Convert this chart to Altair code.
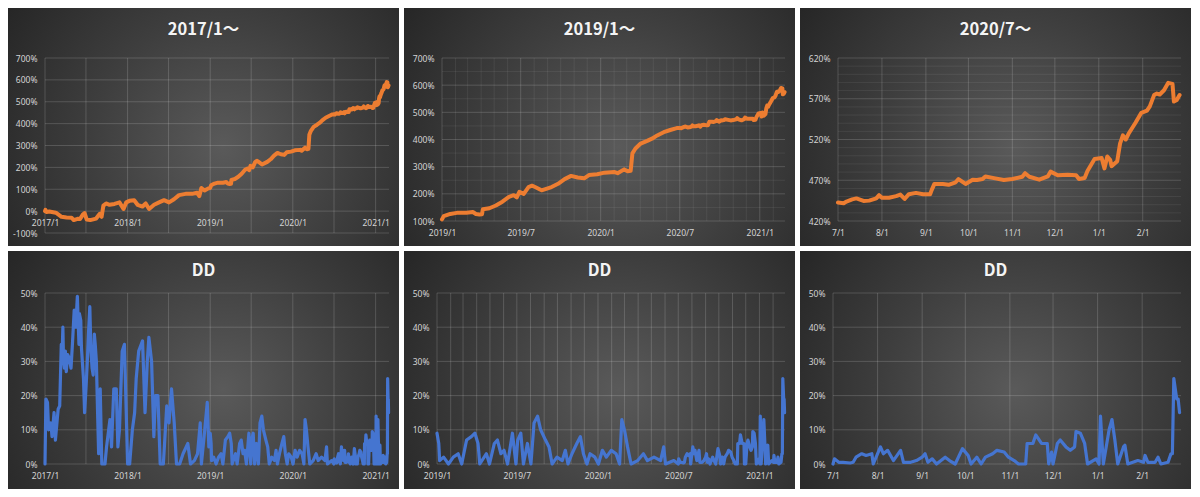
import altair as alt
import pandas as pd

# ---------------- data ----------------
ret_dates = [
    "2017-01-01", "2017-01-03", "2017-01-08", "2017-01-20", "2017-02-06", "2017-02-18",
    "2017-03-15", "2017-04-06", "2017-04-28", "2017-05-08", "2017-05-25", "2017-06-05",
    "2017-06-17", "2017-06-25", "2017-07-04", "2017-07-20", "2017-08-15", "2017-08-25",
    "2017-08-31", "2017-09-08", "2017-09-16", "2017-09-28", "2017-10-13", "2017-11-04",
    "2017-11-26", "2017-12-14", "2017-12-26", "2018-01-09", "2018-01-30", "2018-02-14",
    "2018-03-08", "2018-03-22", "2018-04-06", "2018-04-28", "2018-05-20", "2018-06-11",
    "2018-07-03", "2018-07-25", "2018-08-16", "2018-09-14", "2018-10-13", "2018-11-04",
    "2018-11-14", "2018-11-23", "2018-12-07", "2018-12-24",
    "2019-01-01", "2019-01-05", "2019-01-20", "2019-02-04", "2019-02-26", "2019-03-13",
    "2019-03-20", "2019-03-28", "2019-04-03", "2019-04-05", "2019-04-20", "2019-05-05",
    "2019-05-20", "2019-06-04", "2019-06-15", "2019-06-22", "2019-06-28", "2019-07-08",
    "2019-07-19", "2019-07-27", "2019-08-03", "2019-08-18", "2019-09-10", "2019-09-25",
    "2019-10-10", "2019-10-25", "2019-11-09", "2019-11-24", "2019-12-05", "2019-12-24",
    "2020-01-10", "2020-02-02", "2020-02-09", "2020-02-24", "2020-03-03", "2020-03-10",
    "2020-03-14", "2020-03-21", "2020-04-02", "2020-04-17", "2020-04-28", "2020-05-10",
    "2020-05-25", "2020-06-09", "2020-06-24",
    "2020-07-01", "2020-07-05", "2020-07-07", "2020-07-11", "2020-07-14", "2020-07-19",
    "2020-07-23", "2020-07-28", "2020-07-30", "2020-08-01", "2020-08-06", "2020-08-11",
    "2020-08-14", "2020-08-17", "2020-08-20", "2020-08-25", "2020-08-30", "2020-09-04",
    "2020-09-05", "2020-09-07", "2020-09-13", "2020-09-17", "2020-09-22", "2020-09-24",
    "2020-09-29", "2020-10-04", "2020-10-07", "2020-10-11", "2020-10-13", "2020-10-20",
    "2020-10-26", "2020-11-01", "2020-11-08", "2020-11-10", "2020-11-13", "2020-11-20",
    "2020-11-26", "2020-11-28", "2020-12-03", "2020-12-10", "2020-12-16", "2020-12-18",
    "2020-12-22", "2020-12-24", "2020-12-29", "2021-01-03", "2021-01-05", "2021-01-07",
    "2021-01-09", "2021-01-10", "2021-01-14", "2021-01-16", "2021-01-18", "2021-01-20",
    "2021-01-22", "2021-01-27", "2021-01-31", "2021-02-04", "2021-02-06", "2021-02-09",
    "2021-02-11", "2021-02-13", "2021-02-16", "2021-02-19", "2021-02-22", "2021-02-23",
    "2021-02-25", "2021-02-27",
]
ret_values = [
    0, 6, -4, -2, -5, -7,
    -26, -29, -30, -41, -35, -36,
    -16, -9, -38, -41, -34, -20,
    -12, -26, 25, 35, 29, 33,
    40, 10, 40, 47, 50, 29,
    21, 35, 10, 29, 40, 50,
    40, 54, 73, 79, 79, 84,
    69, 106, 94, 104,
    106, 118, 126, 130, 130, 133,
    126, 124, 125, 143, 147, 157,
    171, 189, 195, 187, 207, 200,
    225, 230, 225, 213, 225, 237,
    254, 266, 260, 257, 269, 272,
    278, 280, 276, 290, 283, 285,
    349, 367, 385, 395, 403, 415,
    427, 435, 442,
    442.6, 441.8, 443.8, 446.5, 447.7, 444.6,
    445.0, 447.7, 451.7, 448.5, 448.5, 450.5,
    452.5, 447.0, 452.9, 454.5, 452.9, 452.9,
    457.6, 465.5, 465.5, 464.4, 467.5, 471.5,
    465.5, 470.7, 470.3, 471.5, 474.7, 472.3,
    470.3, 471.5, 474.3, 478.6, 474.3, 470.7,
    474.7, 480.6, 476.2, 476.6, 476.2, 471.5,
    472.7, 481.4, 496.0, 497.2, 484.6, 499.2,
    495.2, 487.3, 493.3, 515.0, 525.0, 520.0,
    527.0, 540.8, 552.7, 555.4, 560.6, 574.5,
    576.4, 575.2, 580.4, 589.5, 588.3, 566.5,
    568.5, 574.5,
]

dd_dates = [
    "2017-01-01", "2017-01-05", "2017-01-12", "2017-01-17", "2017-01-27", "2017-02-01",
    "2017-02-10", "2017-02-16", "2017-02-28", "2017-03-07", "2017-03-14", "2017-03-18",
    "2017-03-21", "2017-03-24", "2017-03-28", "2017-04-01", "2017-04-05", "2017-04-11",
    "2017-04-18", "2017-04-26", "2017-05-03", "2017-05-10", "2017-05-17", "2017-05-24",
    "2017-05-31", "2017-06-02", "2017-06-08", "2017-06-11", "2017-06-15", "2017-06-20",
    "2017-06-25", "2017-07-01", "2017-07-07", "2017-07-12", "2017-07-18", "2017-07-23",
    "2017-07-28", "2017-08-02", "2017-08-07", "2017-08-11", "2017-08-16", "2017-08-21",
    "2017-08-26", "2017-09-02", "2017-09-09", "2017-09-23",
    "2017-09-30", "2017-10-15", "2017-10-22", "2017-11-01", "2017-11-12", "2017-11-19",
    "2017-11-26", "2017-12-08", "2017-12-18", "2018-01-01", "2018-01-10", "2018-01-22",
    "2018-02-01", "2018-02-08", "2018-02-19", "2018-03-08", "2018-03-19", "2018-03-29",
    "2018-04-05", "2018-04-17", "2018-04-27", "2018-05-04", "2018-05-15", "2018-05-25",
    "2018-06-08", "2018-06-23", "2018-07-03", "2018-07-14", "2018-07-26", "2018-08-05",
    "2018-08-19", "2018-09-03", "2018-09-24", "2018-10-06", "2018-10-23", "2018-11-06",
    "2018-11-18", "2018-11-23", "2018-12-05", "2018-12-19", "2018-12-26",
    "2019-01-01", "2019-01-05", "2019-01-07", "2019-01-16", "2019-01-27", "2019-02-07",
    "2019-02-18", "2019-02-26", "2019-03-09", "2019-03-20", "2019-03-28", "2019-04-04",
    "2019-04-08", "2019-04-23", "2019-04-30", "2019-05-11", "2019-05-18", "2019-05-26",
    "2019-06-02", "2019-06-10", "2019-06-21", "2019-06-29", "2019-07-03", "2019-07-10",
    "2019-07-16", "2019-07-25", "2019-08-02", "2019-08-09", "2019-08-17", "2019-08-24",
    "2019-09-04", "2019-09-12", "2019-09-19", "2019-09-30", "2019-10-12", "2019-10-19",
    "2019-10-25", "2019-11-03", "2019-11-14", "2019-11-22", "2019-11-29", "2019-12-07",
    "2019-12-14", "2019-12-25", "2020-01-02", "2020-01-11", "2020-01-20", "2020-01-31",
    "2020-02-11", "2020-02-19", "2020-02-24", "2020-03-01", "2020-03-08", "2020-03-16",
    "2020-03-31", "2020-04-13", "2020-04-22", "2020-05-07", "2020-05-22", "2020-05-29",
    "2020-06-02", "2020-06-21",
    "2020-07-01", "2020-07-02", "2020-07-05", "2020-07-08", "2020-07-13", "2020-07-15",
    "2020-07-17", "2020-07-21", "2020-07-24", "2020-07-28", "2020-07-29", "2020-08-03",
    "2020-08-05", "2020-08-08", "2020-08-12", "2020-08-17", "2020-08-19", "2020-08-24",
    "2020-08-28", "2020-09-01", "2020-09-03", "2020-09-05", "2020-09-08", "2020-09-11",
    "2020-09-17", "2020-09-20", "2020-09-24", "2020-09-29", "2020-10-03", "2020-10-05",
    "2020-10-09", "2020-10-12", "2020-10-15", "2020-10-20", "2020-10-23", "2020-10-28",
    "2020-10-31", "2020-11-04", "2020-11-07", "2020-11-12", "2020-11-13", "2020-11-17",
    "2020-11-19", "2020-11-23", "2020-11-27", "2020-11-28", "2020-11-30", "2020-12-01",
    "2020-12-04", "2020-12-06", "2020-12-10", "2020-12-13", "2020-12-16", "2020-12-17",
    "2020-12-20", "2020-12-23", "2020-12-25", "2020-12-31", "2021-01-02", "2021-01-03",
    "2021-01-05", "2021-01-09", "2021-01-11", "2021-01-13", "2021-01-15", "2021-01-19",
    "2021-01-20", "2021-01-22", "2021-01-29", "2021-02-02", "2021-02-03", "2021-02-05",
    "2021-02-10", "2021-02-12", "2021-02-14", "2021-02-19", "2021-02-21", "2021-02-22",
    "2021-02-23", "2021-02-25", "2021-02-26", "2021-02-27",
]
dd_values = [
    0, 19, 18, 10, 12, 8,
    15, 7, 16, 17, 35, 33,
    40, 30, 28, 33, 27, 32,
    31, 28, 36, 45, 40, 49,
    35, 44, 42, 34, 30, 25,
    15, 22, 30, 38, 46, 33,
    28, 26, 38, 35, 30, 16,
    3, 22, 0, 0,
    5, 13, 5, 22, 22, 5,
    10, 33, 35, 0, 0, 10,
    15, 25, 33, 36, 15, 30,
    37, 30, 8, 20, 20, 0,
    0, 17, 12, 22, 12, 0,
    0, 3, 6, 0, 1, 3,
    12, 0, 8, 18, 5,
    9, 6, 1, 2, 0, 2,
    3, 0, 7, 8, 9, 6,
    0, 3, 0, 6, 7, 3,
    4, 0, 9, 0, 7, 9,
    0, 6, 0, 12, 14, 10,
    7, 5, 0, 2, 1, 4,
    0, 3, 6, 8, 3, 0,
    3, 2, 0, 4, 2, 4,
    3, 0, 13, 10, 5, 0,
    1, 3, 1, 2, 1, 5,
    0, 1,
    0, 1.5, 0.5, 0.5, 0.3, 0.5,
    2, 3, 2.5, 3, 0, 5,
    3, 4, 1, 4, 0.5, 0.5,
    1, 2, 3, 0.5, 1.5, 0,
    2, 1, 0, 4.5, 2.5, 0,
    2, 0, 2, 3, 4, 3.5,
    2, 1, 0, 0, 6, 6,
    8.5, 6, 6, 0, 3.5, 0,
    6, 7, 5, 4, 5, 9.5,
    9, 6, 0, 1.5, 0, 14,
    0, 10, 13, 7, 0, 5,
    5.5, 0, 1, 0.5, 2.5, 0.5,
    0.5, 2, 0, 0.5, 3, 3,
    25, 19, 19, 15,
]

panel_titles = ["2017/1〜", "2019/1〜", "2020/7〜", "DD", "DD", "DD"]
ticks_ret_all = [-100, 0, 100, 200, 300, 400, 500, 600, 700]
ticks_ret_2019 = [100, 200, 300, 400, 500, 600, 700]
minor_ret_2019 = [150, 250, 350, 450, 550, 650]
ticks_ret_2020 = [420, 470, 520, 570, 620]
minor_ret_2020 = [v for v in range(420, 621, 10) if v not in (420, 470, 520, 570, 620)]
ticks_dd = [0, 10, 20, 30, 40, 50]

ret = pd.DataFrame({"date": pd.to_datetime(ret_dates), "value": ret_values})
dd = pd.DataFrame({"date": pd.to_datetime(dd_dates), "value": dd_values})

# ---------------- styling ----------------
FONT = "Noto Sans"
TITLE_FONT = "Noto Sans CJK JP"
LABEL = "#d4d4d4"
ORANGE = "#ED7D31"
BLUE = "#4575D0"

grad = alt.RadialGradient(
    gradient="radial",
    stops=[alt.GradientStop(color="#5a5a5a", offset=0),
           alt.GradientStop(color="#3e3e3e", offset=0.45),
           alt.GradientStop(color="#1f1f1f", offset=1)],
    x1=0.55, y1=0.55, r1=0, x2=0.55, y2=0.55, r2=0.75,
)


def dt(ts):
    ts = pd.Timestamp(ts)
    return alt.DateTime(year=ts.year, month=ts.month, date=ts.day)


def panel(df, color, width_px, title, start, end, ydom, yticks, yminor,
          xlabels, xmajor, xminor, fmt, L, R, T, B, W, H, xoff, tc):
    sub = df[(df["date"] >= pd.Timestamp(start)) & (df["date"] <= pd.Timestamp(end))]
    xscale = alt.Scale(domain=[dt(start), dt(end)])
    yscale = alt.Scale(domain=ydom, nice=False, zero=False)
    xaxis = alt.Axis(
        values=[dt(v) for v in xlabels], format=fmt, labelFlush=False,
        labelOverlap=False, grid=False, domain=False, ticks=False, zindex=1,
        labelColor=LABEL, labelFont=FONT, labelFontSize=8.5, labelPadding=7,
        offset=xoff, title=None)
    yaxis = alt.Axis(
        values=yticks, labelExpr="datum.value + '%'", labelFlush=False,
        labelOverlap=False, grid=False, domain=False, ticks=False, zindex=1,
        labelColor=LABEL, labelFont=FONT, labelFontSize=8.5, labelPadding=8,
        title=None)

    bg = alt.Chart(pd.DataFrame({"k": [0]})).mark_rect(fill=grad).encode(
        x=alt.value(-L), x2=alt.value(W + R), y=alt.value(-T), y2=alt.value(H + B)
    )
    layers = [bg]
    if len(xminor):
        layers.append(alt.Chart(pd.DataFrame({"date": xminor})).mark_rule(
            color="white", opacity=0.07, strokeWidth=1).encode(
            x=alt.X("date:T", scale=xscale, axis=xaxis)))
    if len(yminor):
        layers.append(alt.Chart(pd.DataFrame({"value": yminor})).mark_rule(
            color="white", opacity=0.07, strokeWidth=1).encode(
            y=alt.Y("value:Q", scale=yscale, axis=yaxis)))
    layers.append(alt.Chart(pd.DataFrame({"date": xmajor})).mark_rule(
        color="white", opacity=0.16, strokeWidth=1).encode(
        x=alt.X("date:T", scale=xscale, axis=xaxis)))
    layers.append(alt.Chart(pd.DataFrame({"value": yticks})).mark_rule(
        color="white", opacity=0.16, strokeWidth=1).encode(
        y=alt.Y("value:Q", scale=yscale, axis=yaxis)))

    line = alt.Chart(sub).mark_line(
        color=color, strokeWidth=width_px, strokeJoin="round", strokeCap="round"
    ).encode(
        x=alt.X("date:T", scale=xscale, axis=xaxis),
        y=alt.Y("value:Q", scale=yscale, axis=yaxis),
    )
    layers.append(line)

    head = alt.Chart(pd.DataFrame({"title": [title]})).mark_text(
        font=TITLE_FONT, fontSize=16.5, fontWeight="bold", color="#f4f4f4",
        align="center", baseline="middle"
    ).encode(
        text="title:N", x=alt.value((W + R - L) / 2), y=alt.value(tc - T)
    )
    layers.append(head)
    return alt.layer(*layers).properties(width=W, height=H)


def months(a, b):
    return list(pd.date_range(a, b, freq="MS"))


half_17 = list(pd.date_range("2017-01-01", "2021-01-01", freq="6MS"))
years_17 = ["2017-01-01", "2018-01-01", "2019-01-01", "2020-01-01", "2021-01-01"]
half_19 = list(pd.date_range("2019-01-01", "2021-01-01", freq="6MS"))
month_19 = [m for m in months("2019-01-01", "2021-02-01") if m not in half_19]
month_20 = months("2020-07-01", "2021-02-01")

p1 = panel(ret, ORANGE, 4, panel_titles[0], "2017-01-01", "2021-03-01",
           [-100, 700], ticks_ret_all, [], years_17, half_17, [], "%Y/%-m",
           37, 10, 50, 13, 344, 175, -175 / 8, 22)
p2 = panel(ret, ORANGE, 4, panel_titles[1], "2019-01-01", "2021-02-28",
           [100, 700], ticks_ret_2019, minor_ret_2019, half_19, half_19, month_19,
           "%Y/%-m", 38, 10, 50, 25, 343, 163, 0, 22)
p3 = panel(ret, ORANGE, 4, panel_titles[2], "2020-07-01", "2021-02-28",
           [420, 620], ticks_ret_2020, minor_ret_2020, month_20, month_20, [],
           "%-m/%-d", 38, 10, 50, 25, 343, 163, 0, 22)
p4 = panel(dd, BLUE, 3.2, panel_titles[3], "2017-01-01", "2021-03-01",
           [0, 50], ticks_dd, [], years_17, half_17, [], "%Y/%-m",
           37, 10, 42, 25, 344, 171, 0, 19.5)
p5 = panel(dd, BLUE, 3.2, panel_titles[4], "2019-01-01", "2021-02-28",
           [0, 50], ticks_dd, [], half_19, months("2019-01-01", "2021-02-01"), [],
           "%Y/%-m", 33, 10, 42, 25, 348, 171, 0, 19.5)
p6 = panel(dd, BLUE, 3.2, panel_titles[5], "2020-07-01", "2021-02-28",
           [0, 50], ticks_dd, [], month_20, month_20, [], "%-m/%-d",
           33, 10, 42, 25, 348, 171, 0, 19.5)

chart = alt.vconcat(
    alt.hconcat(p1, p2, p3, spacing=5),
    alt.hconcat(p4, p5, p6, spacing=5),
    spacing=5,
).properties(padding=0, background="white").configure_view(strokeWidth=0)

chart.save("out.html", embed_options={"renderer": "svg", "actions": False})
